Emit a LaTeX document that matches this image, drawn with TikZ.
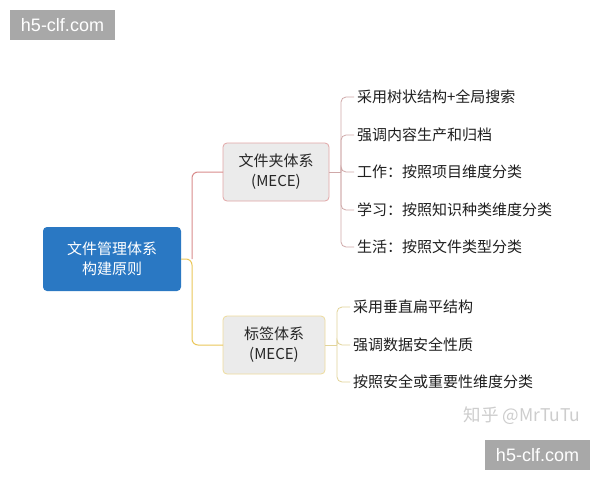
\documentclass[tikz,border=0pt]{standalone}
\usepackage{fontspec}
\setmainfont{Noto Sans CJK SC}
\newfontfamily\wmfont{Liberation Sans}
\begin{document}
\begin{tikzpicture}[x=1pt,y=-1pt,
  every node/.style={inner sep=0pt, outer sep=0pt},
  rootbox/.style={fill=rootblue, rounded corners=4pt, minimum width=138pt, minimum height=64pt, text=white, font=\fontsize{15}{20}\selectfont, align=center},
  midbox/.style={fill=boxgray, rounded corners=4pt, line width=0.8pt, minimum height=58pt, font=\fontsize{15}{20}\selectfont, align=center, text=black!85},
  leaf/.style={anchor=west, font=\fontsize{15}{18}\selectfont, text=black!88},
  redline/.style={draw=linered, line width=1pt, rounded corners=6pt},
  yelline/.style={draw=lineyel, line width=1pt, rounded corners=6pt},
  wmbox/.style={fill=wmgray, minimum width=105pt, minimum height=30pt, text=white, font=\wmfont\fontsize{18}{18}\selectfont}
]
\definecolor{rootblue}{HTML}{2A78C3}
\definecolor{boxgray}{HTML}{EBEBEB}
\definecolor{linered}{HTML}{D98C8C}
\definecolor{borderred}{HTML}{E2A6A6}
\definecolor{lineyel}{HTML}{EBC75A}
\definecolor{borderyel}{HTML}{EEDC9C}
\definecolor{leafred}{HTML}{CFA8A8}
\definecolor{leafyel}{HTML}{E2D49A}
\definecolor{wmgray}{HTML}{A8A8A8}
\definecolor{zhgray}{HTML}{CDCDCD}

\useasboundingbox[fill=white] (0,0) rectangle (600,480);

% watermarks
\node[wmbox] (wm1) at (62.5,25) {h5-clf.com};
\node[wmbox] (wm2) at (537.5,455) {h5-clf.com};
\node[text=zhgray, font=\fontsize{17.5}{17.5}\selectfont] (zh) at (522,416) {知乎 @MrTuTu};

% main nodes
\node[rootbox] (root) at (112,259) {文件管理体系\\构建原则};
\node[midbox, draw=borderred, minimum width=106pt] (folder) at (276,172) {文件夹体系\\(MECE)};
\node[midbox, draw=borderyel, minimum width=102pt] (tag) at (274,345) {标签体系\\(MECE)};

\coordinate (j) at (192,259);
\draw[yelline] (root.east) -- (j) |- (tag.west);
\draw[redline] (j) |- (folder.west);

% folder leaves
\node[leaf] (f1) at (357,97) {采用树状结构+全局搜索};
\node[leaf] (f2) at (357,135) {强调内容生产和归档};
\node[leaf] (f3) at (357,172) {工作：按照项目维度分类};
\node[leaf] (f4) at (357,210) {学习：按照知识种类维度分类};
\node[leaf] (f5) at (357,247) {生活：按照文件类型分类};
\coordinate (fj) at (341,172);
\draw[draw=leafred, line width=0.8pt] (folder.east) -- (fj);
\foreach \k in {f1,f2,f3,f4,f5}{
  \draw[draw=leafred, line width=0.8pt, rounded corners=5pt] (fj) |- ([xshift=-3pt]\k.west);
}

% tag leaves
\node[leaf] (t1) at (353,307) {采用垂直扁平结构};
\node[leaf] (t2) at (353,345) {强调数据安全性质};
\node[leaf] (t3) at (353,382) {按照安全或重要性维度分类};
\coordinate (tj) at (337,345);
\draw[draw=leafyel, line width=0.8pt] (tag.east) -- (tj);
\foreach \k in {t1,t2,t3}{
  \draw[draw=leafyel, line width=0.8pt, rounded corners=5pt] (tj) |- ([xshift=-3pt]\k.west);
}
\end{tikzpicture}
\end{document}
